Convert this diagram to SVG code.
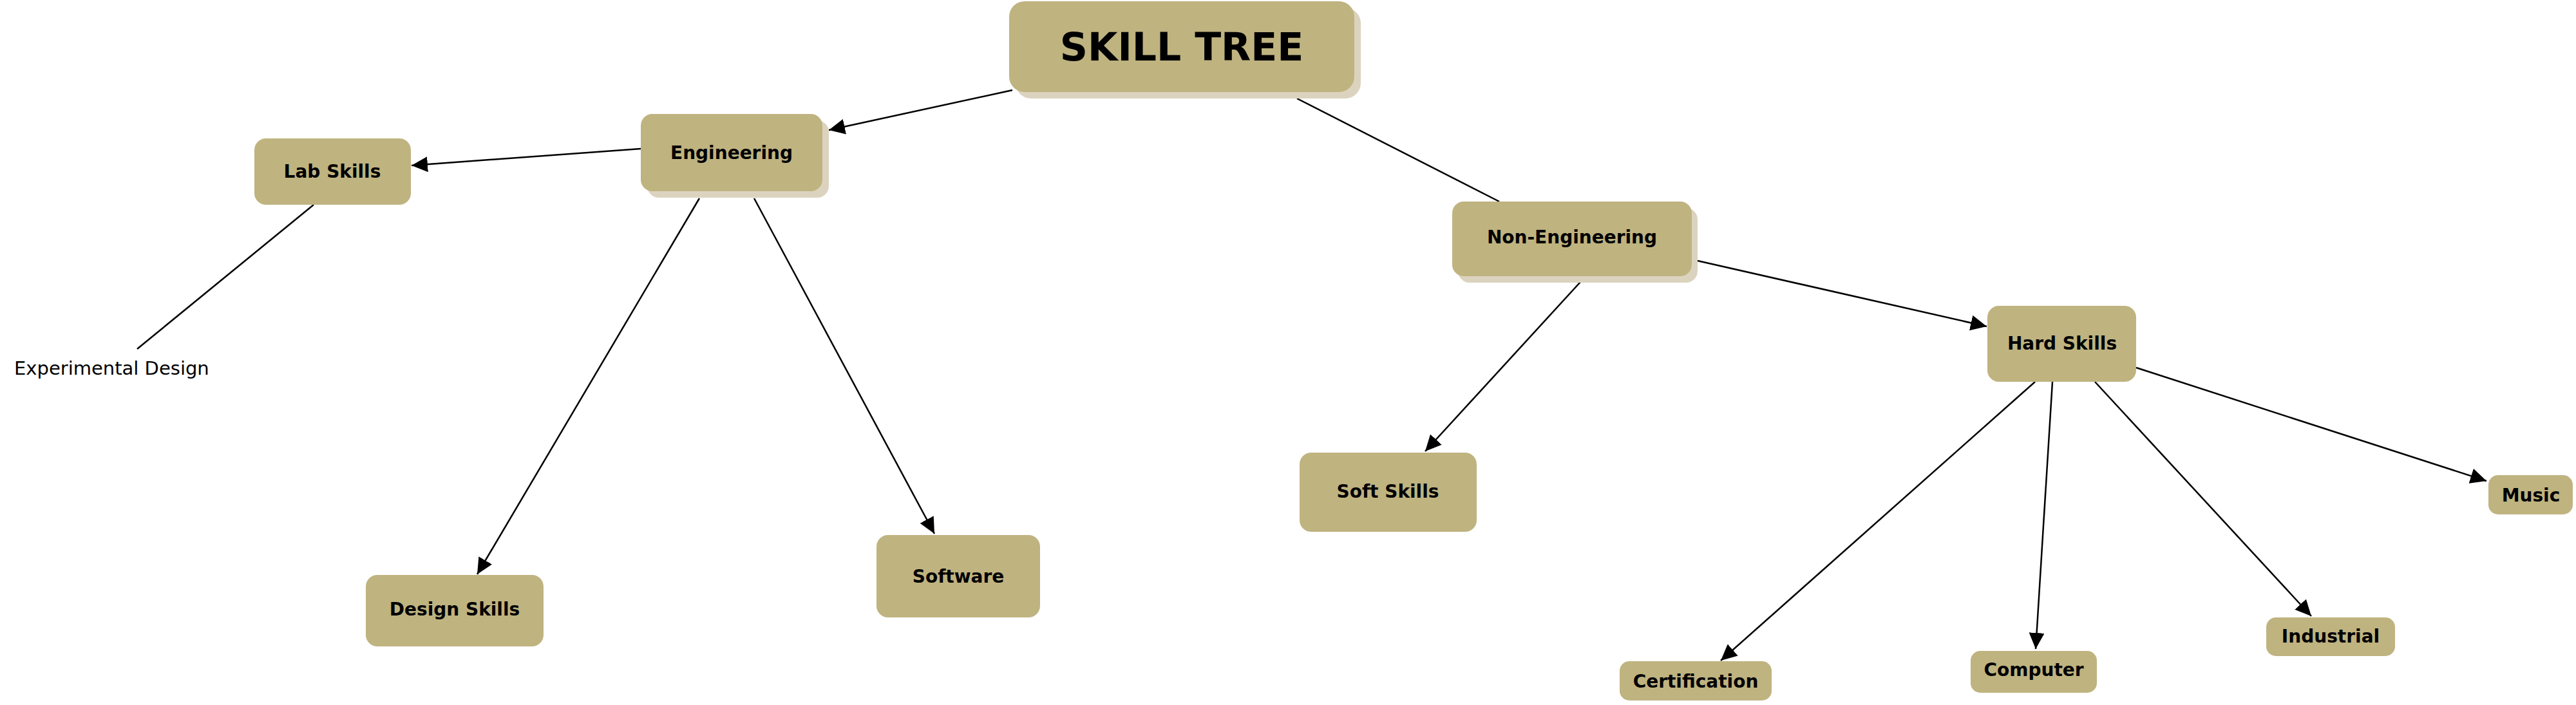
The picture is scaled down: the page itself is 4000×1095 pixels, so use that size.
<svg xmlns="http://www.w3.org/2000/svg" width="4000" height="1095" viewBox="0 0 4000 1095">
<defs>
<marker id="arr" viewBox="0 0 25 24" refX="25" refY="12" markerWidth="25" markerHeight="24" markerUnits="userSpaceOnUse" orient="auto">
<path d="M0,0 L25,12 L0,24 z" fill="#000"/>
</marker>
<style>
.box{fill:#BFB380;}
.shadow{fill:#DCD3BF;}
.lbl{font-family:"DejaVu Sans",Verdana,sans-serif;font-weight:bold;font-size:28px;fill:#000;text-anchor:middle;}
.title{font-family:"DejaVu Sans",Verdana,sans-serif;font-weight:bold;font-size:60px;fill:#000;text-anchor:middle;}
.plain{font-family:"DejaVu Sans",Verdana,sans-serif;font-size:29px;fill:#000;}
.c{stroke:#000;stroke-width:2.5;fill:none;}
.a{marker-end:url(#arr);}
</style>
</defs>
<rect width="4000" height="1095" fill="#fff"/>
<g id="connectors">
<path class="c a" d="M1572,140 L1287,202"/>
<path class="c a" d="M995,231 L639,257"/>
<path class="c a" d="M1086,308 L741,892"/>
<path class="c a" d="M1171,308 L1451,829"/>
<path class="c" d="M487,318 L213,542"/>
<path class="c" d="M2014,153 L2328,313"/>
<path class="c a" d="M2636,405 L3085,507"/>
<path class="c a" d="M2454,438 L2213,701"/>
<path class="c a" d="M3160,593 L2672,1026"/>
<path class="c a" d="M3187,593 L3161,1008"/>
<path class="c a" d="M3253,593 L3589,957"/>
<path class="c a" d="M3317,571 L3861,747"/>
</g>
<g id="skill-tree">
<rect class="shadow" x="1577" y="12" width="536" height="141" rx="24"/>
<rect class="box" x="1567" y="2" width="536" height="141" rx="24"/>
<text class="title" x="1835" y="94">SKILL TREE</text>
</g>
<g id="engineering">
<rect class="shadow" x="1005" y="187" width="282" height="120" rx="18"/>
<rect class="box" x="995" y="177" width="282" height="120" rx="18"/>
<text class="lbl" x="1136" y="247">Engineering</text>
</g>
<g id="lab-skills">
<rect class="box" x="395" y="215" width="243" height="103" rx="18"/>
<text class="lbl" x="516" y="276">Lab Skills</text>
</g>
<g id="experimental-design">
<text class="plain" x="22" y="582">Experimental Design</text>
</g>
<g id="design-skills">
<rect class="box" x="568" y="893" width="276" height="111" rx="18"/>
<text class="lbl" x="706" y="956">Design Skills</text>
</g>
<g id="software">
<rect class="box" x="1361" y="831" width="254" height="128" rx="18"/>
<text class="lbl" x="1488" y="905">Software</text>
</g>
<g id="non-engineering">
<rect class="shadow" x="2264" y="323" width="372" height="116" rx="18"/>
<rect class="box" x="2255" y="313" width="372" height="116" rx="18"/>
<text class="lbl" x="2441" y="378">Non-Engineering</text>
</g>
<g id="soft-skills">
<rect class="box" x="2018" y="703" width="275" height="123" rx="18"/>
<text class="lbl" x="2155" y="773">Soft Skills</text>
</g>
<g id="hard-skills">
<rect class="box" x="3086" y="475" width="231" height="118" rx="18"/>
<text class="lbl" x="3202" y="543">Hard Skills</text>
</g>
<g id="certification">
<rect class="box" x="2515" y="1027" width="236" height="61" rx="15"/>
<text class="lbl" x="2633" y="1068">Certification</text>
</g>
<g id="computer">
<rect class="box" x="3060" y="1011" width="196" height="65" rx="15"/>
<text class="lbl" x="3158" y="1050">Computer</text>
</g>
<g id="industrial">
<rect class="box" x="3519" y="959" width="200" height="60" rx="15"/>
<text class="lbl" x="3619" y="998">Industrial</text>
</g>
<g id="music">
<rect class="box" x="3864" y="738" width="131" height="61" rx="15"/>
<text class="lbl" x="3930" y="779">Music</text>
</g>
</svg>
